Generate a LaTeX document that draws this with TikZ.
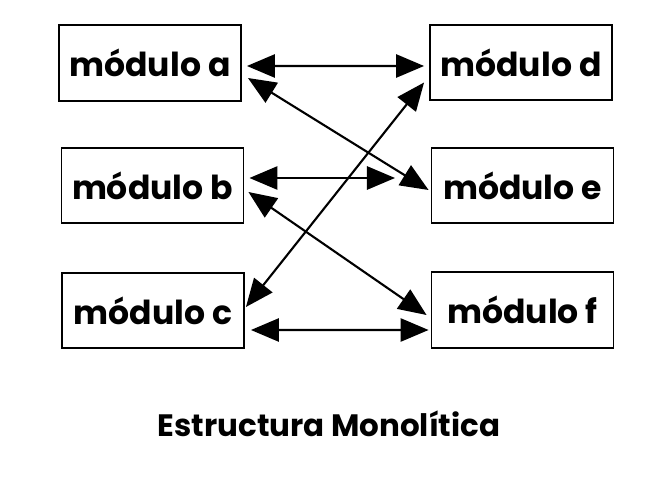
\documentclass[tikz,border=0pt]{standalone}
\usepackage{fontspec}
\setmainfont{Poppins}
\usetikzlibrary{shapes,positioning,calc}
\usetikzlibrary{arrows.meta}
\tikzstyle{modulo} = [rectangle, minimum width=4.55cm, minimum height=1.88cm, text centered, draw=black, line width=1.3pt, font=\fontsize{23.5}{27}\selectfont\bfseries, inner sep=0pt]
\tikzstyle{freccia} = [line width=1.5pt, {Triangle[length=7mm,width=5.8mm]}-{Triangle[length=7mm,width=5.8mm]}]

\begin{document}
\begin{tikzpicture}[x=0.025cm,y=-0.025cm]
							\useasboundingbox (0,0) rectangle (669,478);
							\node (a) at (150,63) [modulo] {módulo a};
							\node (b) at (152.5,185.5) [modulo] {módulo b};
							\node (c) at (153,310.5) [modulo] {módulo c};
							\node (d) at (521,62.5) [modulo] {módulo d};
							\node (e) at (522.5,185.5) [modulo] {módulo e};
							\node (f) at (522.5,310) [modulo] {módulo f};
							\coordinate (be) at (395,178);
							\node (titolo) at (329,424) [font=\fontsize{22}{25}\selectfont\bfseries] {Estructura Monolítica};
							\draw [freccia] ([shift={(5,3)}]a.east) -- ([shift={(-5,3.5)}]d.west);
							\draw [freccia] ([shift={(6,15)}]a.east) -- ([shift={(-2,4.5)}]e.west);
							\draw [freccia] ([shift={(1,-3.5)}]c.east) -- ([shift={(-5,20)}]d.west);
							\draw [freccia] ([shift={(5,-7.5)}]b.east) -- (be);
							\draw [freccia] ([shift={(4,6.5)}]b.east) -- ([shift={(-4,5)}]f.west);
							\draw [freccia] ([shift={(6,19.5)}]c.east) -- ([shift={(-2,20)}]f.west);
						\end{tikzpicture}
\end{document}
